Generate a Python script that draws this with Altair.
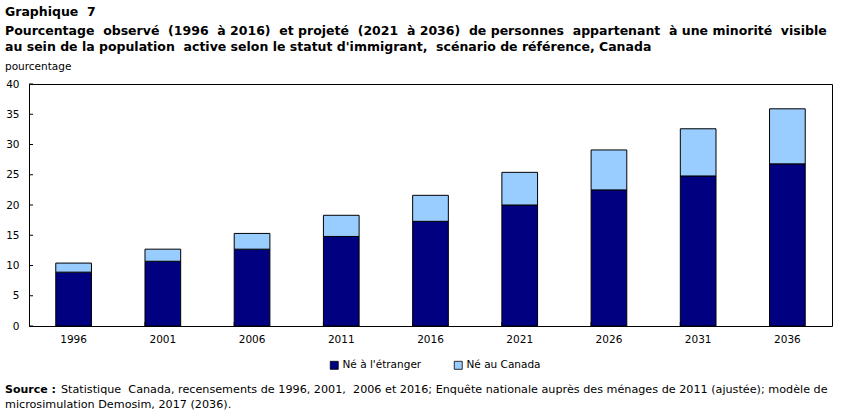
import altair as alt
import pandas as pd

# Visible-minority share of the labour force, by immigrant status (percent)
years = ["1996", "2001", "2006", "2011", "2016", "2021", "2026", "2031", "2036"]
born_abroad = [8.9, 10.7, 12.7, 14.8, 17.3, 20.0, 22.5, 24.8, 26.8]
born_canada = [1.5, 2.0, 2.6, 3.5, 4.3, 5.4, 6.6, 7.8, 9.1]
series = ["Né à l'étranger", "Né au Canada"]
colors = ["#000080", "#99CCFF"]
y_ticks = [0, 5, 10, 15, 20, 25, 30, 35, 40]

NB = "\u00a0"  # keeps the wider word gaps in the headings
title_lines = [
    f"Graphique {NB}7",
    f"Pourcentage {NB}observé {NB}(1996 {NB}à 2016) {NB}et projeté {NB}(2021 {NB}à 2036) {NB}de personnes "
    f"{NB}appartenant {NB}à une minorité {NB}visible",
    f"au sein de la population {NB}active selon le statut d'immigrant, {NB}scénario de référence, Canada",
]
y_label = "pourcentage"
source_head = "Source :"
source_lines = [
    f"Statistique {NB}Canada, recensements de 1996, 2001, {NB}2006 et 2016; Enquête nationale auprès des "
    "ménages de 2011 (ajustée); modèle de",
    "microsimulation Demosim, 2017 (2036).",
]

FONT = "DejaVu Sans"
W, H = 803, 242
Y_SCALE = alt.Scale(domain=[0, 40], nice=False)

rows = []
for i, yr in enumerate(years):
    rows.append({"year": yr, "series": series[0], "ord": 0, "value": born_abroad[i]})
    rows.append({"year": yr, "series": series[1], "ord": 1, "value": born_canada[i]})
df = pd.DataFrame(rows)

x_enc = alt.X(
    "year:O",
    sort=years,
    scale=alt.Scale(paddingInner=0.6, paddingOuter=0.3),
    axis=alt.Axis(
        title=None, labelAngle=0, ticks=False, tickSize=0, domain=False,
        labelPadding=8, labelFont=FONT, labelFontSize=10.5, labelColor="black",
    ),
)

bars = alt.Chart(df).mark_bar(stroke="black", strokeWidth=1).encode(
    x=x_enc,
    y=alt.Y(
        "sum(value):Q",
        stack="zero",
        scale=Y_SCALE,
        axis=alt.Axis(
            values=y_ticks, title=None, grid=False, ticks=False, tickSize=0,
            domain=False, labelPadding=10, labelFont=FONT, labelFontSize=10.5,
            labelColor="black",
        ),
    ),
    color=alt.Color(
        "series:N",
        scale=alt.Scale(domain=series, range=colors),
        legend=alt.Legend(
            title=None, orient="none", direction="horizontal",
            legendX=300, legendY=276, symbolType="square", symbolSize=64,
            symbolStrokeColor="black", symbolStrokeWidth=0.8,
            labelFont=FONT, labelFontSize=10.5, labelColor="black",
            labelOffset=3, columnPadding=30,
        ),
    ),
    order=alt.Order("ord:Q", sort="ascending"),
)

# Inward tick marks on the y axis
ytick_df = pd.DataFrame({"v": y_ticks})
yticks = alt.Chart(ytick_df).mark_rule(color="black", strokeWidth=1).encode(
    y=alt.Y("v:Q", scale=Y_SCALE, axis=None),
    x=alt.value(0),
    x2=alt.value(4),
)

# Inward tick marks on the x axis, at the band boundaries
xtick_df = pd.DataFrame({"year": years[1:]})
xticks = alt.Chart(xtick_df).mark_rule(color="black", strokeWidth=1).encode(
    x=alt.X("year:O", sort=years, bandPosition=0),
    y=alt.value(H),
    y2=alt.value(H - 4),
)

# Titles, y-axis caption and source note
text_df = pd.DataFrame({
    "t": title_lines + [y_label, source_head] + source_lines,
    "px": [-24, -24, -24, -24, -24, 32, -24],
    "py": [-72, -53, -37, -17, 306, 306, 321],
    "bold": [True, True, True, False, True, False, False],
    "size": [12.5, 12.5, 12.5, 10.5, 11.0, 11.2, 11.2],
})


def text_layer(sub):
    return alt.Chart(sub).mark_text(
        align="left", baseline="middle", font=FONT, color="black",
        fontWeight="bold" if sub["bold"].iloc[0] else "normal",
        fontSize=float(sub["size"].iloc[0]),
    ).encode(
        x=alt.X("px:Q", scale=None),
        y=alt.Y("py:Q", scale=None),
        text="t:N",
    )


texts = [
    text_layer(text_df.iloc[0:3]),
    text_layer(text_df.iloc[3:4]),
    text_layer(text_df.iloc[4:5]),
    text_layer(text_df.iloc[5:7]),
]

chart = alt.layer(bars, yticks, xticks, *texts).resolve_axis(
    y="independent"
).properties(
    width=W, height=H,
    autosize=alt.AutoSizeParams(type="none"),
    padding={"left": 29, "top": 84, "right": 18, "bottom": 90},
    background="white",
).configure_view(stroke="black", strokeWidth=1)

chart.save("out.html", embed_options={"renderer": "svg", "actions": False})
